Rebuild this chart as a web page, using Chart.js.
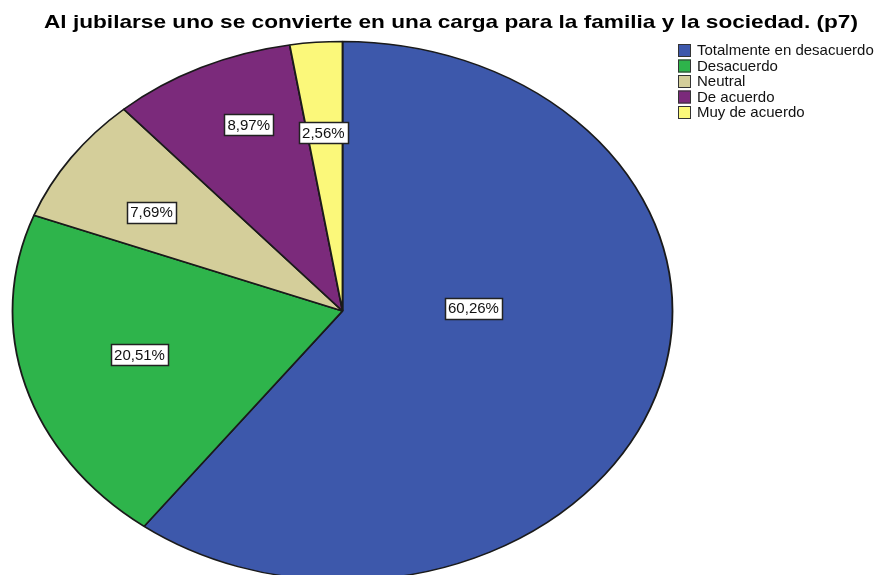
<!DOCTYPE html>
<html>
<head>
<meta charset="utf-8">
<script src="https://cdn.jsdelivr.net/npm/chart.js@4.4.1/dist/chart.umd.min.js"></script>
<style>
  html, body { margin: 0; padding: 0; background: #fff; overflow: hidden; }
  #wrap { position: relative; width: 881px; height: 600px; }
</style>
</head>
<body>
<div id="wrap"><canvas id="pieChart"></canvas></div>
<script>
const titleText = 'Al jubilarse uno se convierte en una carga para la familia y la sociedad. (p7)';
const categories = ['Totalmente en desacuerdo', 'Desacuerdo', 'Neutral', 'De acuerdo', 'Muy de acuerdo'];
const percents = [60.26, 20.51, 7.69, 8.97, 2.56];
const sliceColors = ['#3d58ab', '#2eb44b', '#d4ce9a', '#7b2a7b', '#fbf87a'];

const fontFamily = '"Liberation Sans", Arial, sans-serif';

// SPSS draws the pie squashed into an ellipse: stretch x around the centre
const ellipsePlugin = {
  id: 'ellipse',
  beforeDatasetsDraw(chart, args, opts) {
    const arc = chart.getDatasetMeta(0).data[0];
    if (!arc) return;
    const ctx = chart.ctx;
    ctx.save();
    ctx.translate(arc.x, arc.y);
    ctx.scale(opts.scaleX, 1);
    ctx.translate(-arc.x, -arc.y);
  },
  afterDatasetsDraw(chart) {
    chart.ctx.restore();
  }
};

const pctLabels = {
  id: 'pctLabels',
  afterDatasetsDraw(chart, args, opts) {
    const ctx = chart.ctx;
    const sx = chart.options.plugins.ellipse.scaleX;
    ctx.save();
    ctx.font = opts.fontSize + 'px ' + fontFamily;
    ctx.textAlign = 'center';
    ctx.textBaseline = 'middle';
    chart.getDatasetMeta(0).data.forEach((arc, i) => {
      const p = opts.placement[i];
      const a = (arc.startAngle + arc.endAngle) / 2 + p[1] * Math.PI / 180;
      const r = arc.outerRadius * p[0];
      const x = arc.x + Math.cos(a) * r * sx;
      const y = arc.y + Math.sin(a) * r;
      const txt = percents[i].toFixed(2).replace('.', ',') + '%';
      const w = Math.round(ctx.measureText(txt).width + 6);
      const h = 21;
      const bx = Math.round(x - w / 2) + 0.5, by = Math.round(y - h / 2) + 0.5;
      ctx.fillStyle = '#fff';
      ctx.fillRect(bx, by, w, h);
      ctx.strokeStyle = '#222';
      ctx.lineWidth = 1.5;
      ctx.strokeRect(bx, by, w, h);
      ctx.fillStyle = '#111';
      ctx.fillText(txt, x, y + 1);
    });
    ctx.restore();
  }
};

// title and legend sit outside the padded pie area, so they are drawn here
const sideText = {
  id: 'sideText',
  afterDraw(chart, args, opts) {
    const ctx = chart.ctx;
    ctx.save();
    ctx.fillStyle = '#000';
    ctx.font = 'bold ' + opts.titleSize + 'px ' + fontFamily;
    ctx.textAlign = 'center';
    ctx.textBaseline = 'middle';
    // the source title is rendered wide, so stretch it to its width
    const tw = ctx.measureText(titleText).width;
    ctx.save();
    ctx.translate(opts.titleX, opts.titleY);
    ctx.scale(opts.titleWidth / tw, 1);
    ctx.fillText(titleText, 0, 0);
    ctx.restore();

    ctx.textAlign = 'left';
    ctx.font = opts.fontSize + 'px ' + fontFamily;
    chart.data.labels.forEach((lab, i) => {
      const y = opts.top + i * opts.rowHeight;
      ctx.fillStyle = chart.data.datasets[0].backgroundColor[i];
      ctx.fillRect(opts.left, y - 6, 13, 13);
      ctx.strokeStyle = '#333';
      ctx.lineWidth = 1;
      ctx.strokeRect(opts.left + 0.5, y - 5.5, 12, 12);
      ctx.fillStyle = '#111';
      ctx.fillText(lab, opts.left + 19, y + 1);
    });
    ctx.restore();
  }
};

new Chart(document.getElementById('pieChart'), {
  type: 'pie',
  data: {
    labels: categories,
    datasets: [{
      data: percents,
      backgroundColor: sliceColors,
      borderColor: '#1a1a1a',
      borderWidth: 1.5,
      radius: 269.5
    }]
  },
  options: {
    responsive: true,
    maintainAspectRatio: false,
    animation: false,
    layout: { padding: { left: 72, right: 268, top: 41, bottom: 19 } },
    plugins: {
      legend: { display: false },
      tooltip: { enabled: false },
      title: { display: false },
      ellipse: { scaleX: 330 / 269.5 },
      pctLabels: {
        fontSize: 15,
        placement: [[0.397, -20], [0.636, 1.4], [0.685, -2.3], [0.747, 3], [0.665, -0.4]]
      },
      sideText: {
        titleX: 451, titleY: 23, titleSize: 19, titleWidth: 814,
        left: 678, top: 50, rowHeight: 15.5, fontSize: 15
      }
    }
  },
  plugins: [ellipsePlugin, pctLabels, sideText]
});
</script>
</body>
</html>
